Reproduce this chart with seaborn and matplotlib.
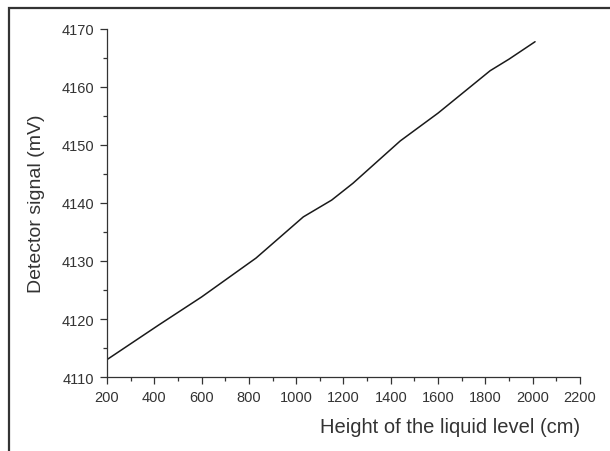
import numpy as np
import pandas as pd
import seaborn as sns
import matplotlib.pyplot as plt
from matplotlib.patches import Rectangle
from matplotlib.ticker import MultipleLocator

height_cm = [200, 420, 600, 830, 1030, 1150, 1240, 1440, 1600, 1820, 1900, 2010]
signal_mv = [4113.0, 4119.0, 4123.8, 4130.5, 4137.6, 4140.5, 4143.4, 4150.7, 4155.5, 4162.8, 4164.8, 4167.8]

df = pd.DataFrame({'height': height_cm, 'signal': signal_mv})

sns.set_style('ticks')
plt.rcParams['font.family'] = ['Liberation Sans', 'DejaVu Sans']

fig = plt.figure(figsize=(6.1, 4.52), dpi=100)
ax = fig.add_axes([0.1754, 0.1637, 0.7754, 0.77])

sns.lineplot(data=df, x='height', y='signal', ax=ax, color='#1a1a1a', linewidth=1.1)

ax.set_xlim(200, 2200)
ax.set_ylim(4110, 4170)
ax.xaxis.set_major_locator(MultipleLocator(200))
ax.xaxis.set_minor_locator(MultipleLocator(100))
ax.yaxis.set_major_locator(MultipleLocator(10))
ax.yaxis.set_minor_locator(MultipleLocator(5))
ax.tick_params(which='major', length=5, width=0.9, color='#333333', labelsize=10.5, labelcolor='#333333', pad=4)
ax.tick_params(which='minor', length=3, width=0.9, color='#333333')
for s in ['top', 'right']:
    ax.spines[s].set_visible(False)
for s in ['left', 'bottom']:
    ax.spines[s].set_color('#333333')
    ax.spines[s].set_linewidth(0.9)

ax.set_xlabel('Height of the liquid level (cm)', fontsize=14.5, color='#333333', loc='right', labelpad=10)
ax.set_ylabel('Detector signal (mV)', fontsize=14, color='#333333', labelpad=12)

fig.patches.append(Rectangle((8.5 / 610, -0.05), 1.2, 1 - 8.5 / 452 + 0.05, transform=fig.transFigure,
                             fill=False, edgecolor='#333333', linewidth=1.6))

fig.savefig('out.png', dpi=100)
